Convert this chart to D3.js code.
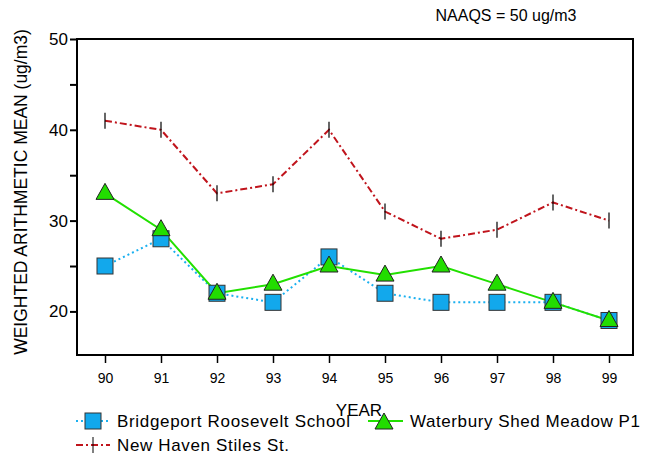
<!DOCTYPE html>
<html><head><meta charset="utf-8">
<script src="https://cdn.jsdelivr.net/npm/d3@7"></script>
<style>body{margin:0;background:#fff}text{font-family:"Liberation Sans",Arial,sans-serif}</style>
</head><body>
<script>
const years = [90,91,92,93,94,95,96,97,98,99];
const bridgeport = [25,28,22,21,26,22,21,21,21,19];
const waterbury = [33,29,22,23,25,24,25,23,21,19];
const newHaven = [41,40,33,34,40,31,28,29,32,30];
const yTicks = [20,30,40,50];

const svg = d3.select("body").append("svg").attr("width",654).attr("height",459);
const x = d3.scaleLinear().domain([90,99]).range([105,609]);
const y = d3.scaleLinear().domain([15.2,50]).range([355,39]);
const L = 77, R = 633, T = 39, B = 355;

// frame
svg.append("rect").attr("x",L).attr("y",T).attr("width",R-L).attr("height",B-T)
   .attr("fill","none").attr("stroke","#000").attr("stroke-width",2);

// y axis
const ya = svg.append("g").attr("transform","translate("+L+",0)")
  .call(d3.axisLeft(y).tickValues([20,25,30,35,40,45,50]).tickSize(7)
        .tickFormat(d => yTicks.includes(d) ? d : ""));
ya.select(".domain").remove();
ya.selectAll("line").attr("stroke-width",2);
ya.selectAll("text").attr("font-size",17).attr("fill","#000").attr("x",-9);
// x axis
const xa = svg.append("g").attr("transform","translate(0,"+B+")")
  .call(d3.axisBottom(x).tickValues(years).tickSize(8).tickFormat(d => d));
xa.select(".domain").remove();
xa.selectAll("line").attr("stroke-width",1.5);
xa.selectAll("text").attr("font-size",14).attr("fill","#000").attr("dy","1.2em");

const line = d3.line().x((d,i)=>x(years[i])).y(d=>y(d));

svg.append("path").datum(newHaven).attr("d",line).attr("fill","none")
   .attr("stroke","#c0141c").attr("stroke-width",2).attr("stroke-dasharray","7,3,2,3");
svg.selectAll(".nh").data(newHaven).enter().append("line")
   .attr("x1",(d,i)=>x(years[i])).attr("x2",(d,i)=>x(years[i]))
   .attr("y1",d=>y(d)-8).attr("y2",d=>y(d)+8).attr("stroke","#000").attr("stroke-width",1.2);

svg.append("path").datum(bridgeport).attr("d",line).attr("fill","none")
   .attr("stroke","#1ab0f0").attr("stroke-width",2).attr("stroke-dasharray","2,3");
svg.append("path").datum(waterbury).attr("d",line).attr("fill","none")
   .attr("stroke","#22e000").attr("stroke-width",2);

function square(g,cx,cy){
  g.append("rect").attr("x",cx-8).attr("y",cy-8).attr("width",16).attr("height",16)
   .attr("fill","#12a8ec").attr("stroke","#333").attr("stroke-width",1);
}
function tri(g,cx,cy){
  g.append("path").attr("d",`M${cx},${cy-10}L${cx+9},${cy+6}L${cx-9},${cy+6}Z`)
   .attr("fill","#22dd00").attr("stroke","#222").attr("stroke-width",1);
}
bridgeport.forEach((d,i)=>square(svg,x(years[i]),y(d)));
waterbury.forEach((d,i)=>tri(svg,x(years[i]),y(d)));

// texts
svg.append("text").attr("x",506).attr("y",21).attr("text-anchor","middle").attr("font-size",16).text("NAAQS = 50 ug/m3");
svg.append("text").attr("transform","translate(27,192) rotate(-90)").attr("text-anchor","middle")
   .attr("font-size",17.5).text("WEIGHTED ARITHMETIC MEAN (ug/m3)");
svg.append("text").attr("x",359).attr("y",416).attr("text-anchor","middle").attr("font-size",17).text("YEAR");

// legend
const lg = svg.append("g");
lg.append("line").attr("x1",76).attr("x2",110).attr("y1",421).attr("y2",421)
  .attr("stroke","#1ab0f0").attr("stroke-width",2).attr("stroke-dasharray","2,3");
square(lg,93,421);
lg.append("text").attr("x",117).attr("y",427).attr("font-size",17).attr("textLength",233).text("Bridgeport Roosevelt School");
lg.append("line").attr("x1",368).attr("x2",403).attr("y1",421).attr("y2",421)
  .attr("stroke","#22e000").attr("stroke-width",2);
tri(lg,384,423);
lg.append("text").attr("x",410).attr("y",427).attr("font-size",17).attr("textLength",230).text("Waterbury Shed Meadow P1");
lg.append("line").attr("x1",76).attr("x2",110).attr("y1",445).attr("y2",445)
  .attr("stroke","#c0141c").attr("stroke-width",2).attr("stroke-dasharray","7,3,2,3");
lg.append("line").attr("x1",93).attr("x2",93).attr("y1",437).attr("y2",453).attr("stroke","#000");
lg.append("text").attr("x",117).attr("y",451).attr("font-size",17).attr("textLength",172).text("New Haven Stiles St.");
</script>
</body></html>
